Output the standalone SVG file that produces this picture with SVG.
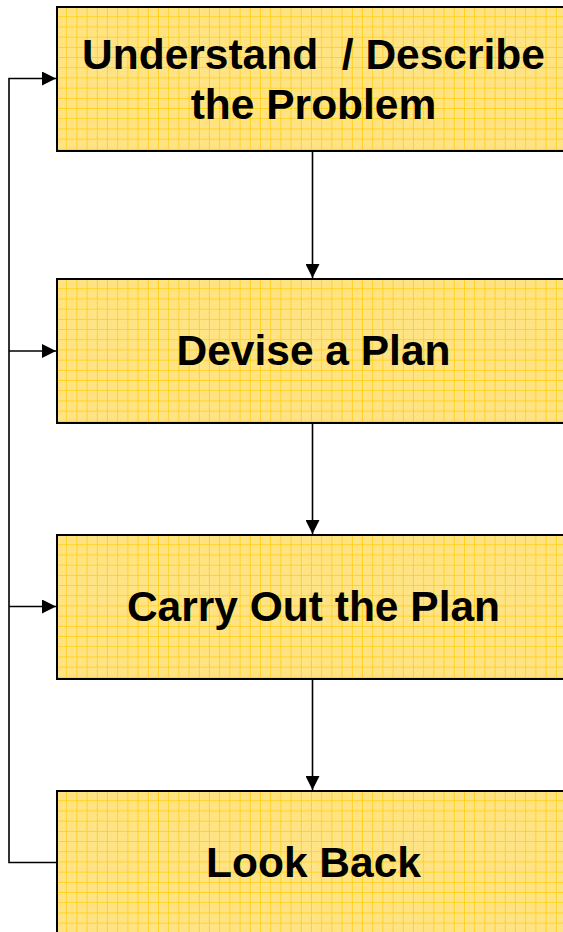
<svg xmlns="http://www.w3.org/2000/svg" width="563" height="932" viewBox="0 0 563 932">
  <style>
    .box { fill: url(#grid); stroke: #000; stroke-width: 2; }
    .lbl { font-family: "Liberation Sans", Arial, sans-serif; font-weight: bold; font-size: 42.5px; fill: #000; text-anchor: middle; }
    .conn { fill: none; stroke: #000; stroke-width: 1.6; }
  </style>
  <defs>
    <pattern id="grid" patternUnits="userSpaceOnUse" x="0" y="0" width="10.2" height="10.2">
      <rect width="10.2" height="10.2" fill="#FFE68C"/>
      <rect x="1" y="1" width="1" height="1" fill="#FFDC6A"/>
      <rect x="3" y="1" width="1" height="1" fill="#FFDC6A"/>
      <rect x="5" y="1" width="1" height="1" fill="#FFDC6A"/>
      <rect x="7" y="1" width="1" height="1" fill="#FFDC6A"/>
      <rect x="2" y="3" width="1" height="1" fill="#FFDC6A"/>
      <rect x="4" y="3" width="1" height="1" fill="#FFDC6A"/>
      <rect x="6" y="3" width="1" height="1" fill="#FFDC6A"/>
      <rect x="8" y="3" width="1" height="1" fill="#FFDC6A"/>
      <rect x="1" y="5" width="1" height="1" fill="#FFDC6A"/>
      <rect x="3" y="5" width="1" height="1" fill="#FFDC6A"/>
      <rect x="5" y="5" width="1" height="1" fill="#FFDC6A"/>
      <rect x="7" y="5" width="1" height="1" fill="#FFDC6A"/>
      <rect x="2" y="7" width="1" height="1" fill="#FFDC6A"/>
      <rect x="4" y="7" width="1" height="1" fill="#FFDC6A"/>
      <rect x="6" y="7" width="1" height="1" fill="#FFDC6A"/>
      <rect x="8" y="7" width="1" height="1" fill="#FFDC6A"/>
      <rect x="9.2" y="0" width="1" height="10.2" fill="#FFD01E"/>
      <rect x="0" y="9.2" width="10.2" height="1" fill="#FFD01E"/>
    </pattern>
    <marker id="arrow" markerWidth="14" markerHeight="14" refX="14" refY="7" orient="auto" markerUnits="userSpaceOnUse">
      <path d="M0,0 L14,7 L0,14 Z" fill="#000"/>
    </marker>
  </defs>

  <g id="node-understand" transform="translate(57,7)">
    <rect class="box" x="0" y="0" width="520" height="144"/>
    <text class="lbl" x="256.5" y="62" xml:space="preserve">Understand  / Describe</text>
    <text class="lbl" x="256.5" y="112">the Problem</text>
  </g>

  <g id="node-devise" transform="translate(57,279)">
    <rect class="box" x="0" y="0" width="520" height="144"/>
    <text class="lbl" x="256.5" y="86">Devise a Plan</text>
  </g>

  <g id="node-carry" transform="translate(57,535)">
    <rect class="box" x="0" y="0" width="520" height="144"/>
    <text class="lbl" x="256.5" y="86">Carry Out the Plan</text>
  </g>

  <g id="node-lookback" transform="translate(57,791)">
    <rect class="box" x="0" y="0" width="520" height="160"/>
    <text class="lbl" x="256.5" y="86">Look Back</text>
  </g>

  <g id="connectors">
    <line class="conn" x1="312.5" y1="152" x2="312.5" y2="278" marker-end="url(#arrow)"/>
    <line class="conn" x1="312.5" y1="424" x2="312.5" y2="534" marker-end="url(#arrow)"/>
    <line class="conn" x1="312.5" y1="680" x2="312.5" y2="790" marker-end="url(#arrow)"/>
    <polyline class="conn" points="56,862.5 9,862.5 9,78.5 56,78.5" marker-end="url(#arrow)"/>
    <line class="conn" x1="9" y1="351" x2="56" y2="351" marker-end="url(#arrow)"/>
    <line class="conn" x1="9" y1="606.5" x2="56" y2="606.5" marker-end="url(#arrow)"/>
  </g>
</svg>
